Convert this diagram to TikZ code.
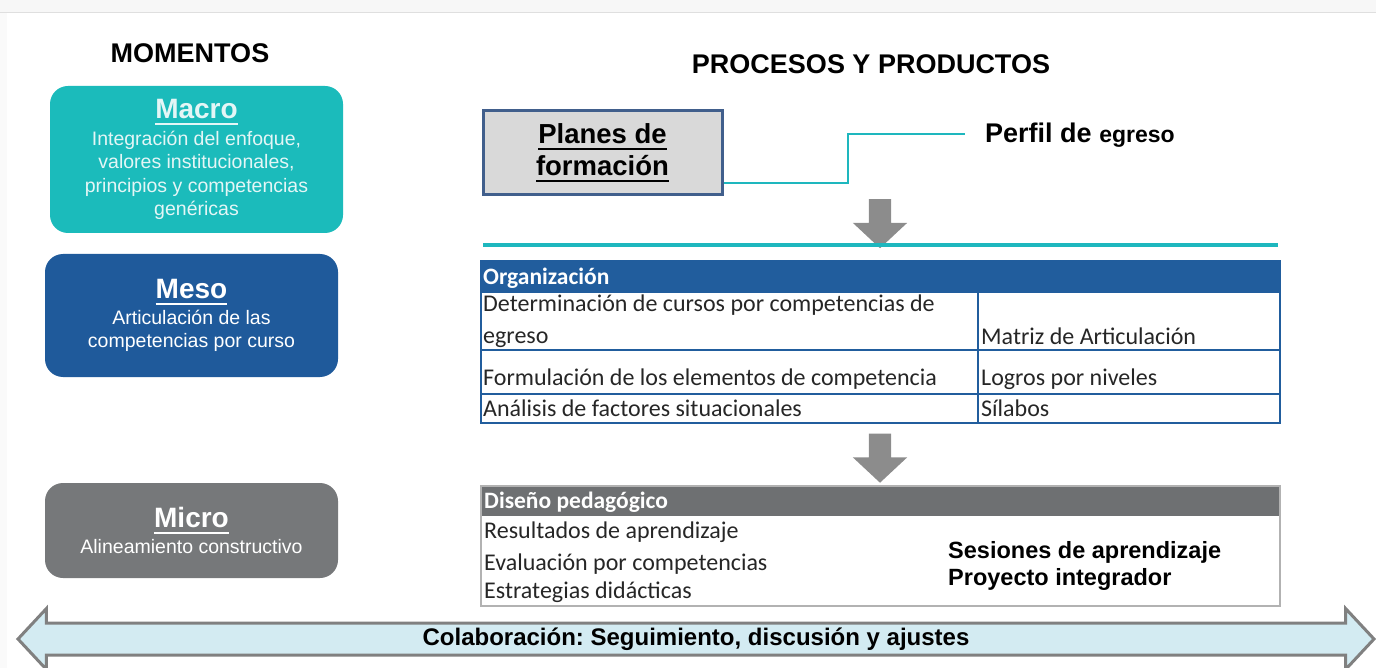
\documentclass[tikz,border=0pt]{standalone}
\usepackage{fontspec}
\setmainfont{Liberation Sans}
\newfontfamily\calibri{Carlito}
\usetikzlibrary{shapes.arrows}
\definecolor{macroteal}{RGB}{27,187,187}
\definecolor{macrotext}{RGB}{228,246,246}
\definecolor{mesoblue}{RGB}{31,90,155}
\definecolor{microgray}{RGB}{118,120,122}
\definecolor{orgblue}{RGB}{33,93,157}
\definecolor{headgray}{RGB}{110,112,114}
\definecolor{linkteal}{RGB}{30,183,190}
\definecolor{arrowgray}{RGB}{140,140,140}
\definecolor{planesgray}{RGB}{217,217,217}
\definecolor{planesedge}{RGB}{65,95,140}
\definecolor{bandblue}{RGB}{211,235,242}
\definecolor{bandedge}{RGB}{128,128,128}
\newcommand{\undertext}[1]{\setbox0=\hbox{#1}\rlap{\vrule width\wd0 height -4pt depth 6.2pt}\box0}
\newcommand{\momtitle}[1]{{\fontsize{28}{30}\selectfont\bfseries\undertext{#1}}}
\frenchspacing

\begin{document}
\begin{tikzpicture}[x=1pt,y=-1pt,
  moment/.style={rounded corners=18pt,minimum width=293pt,inner sep=0pt,align=center,text=white,font=\fontsize{19.5}{23.5}\selectfont},
  heading/.style={font=\fontsize{27}{30}\selectfont\bfseries},
  downarrow/.style={single arrow,fill=arrowgray,rotate=-90,minimum height=49pt,inner sep=11pt,single arrow head extend=16pt,single arrow tip angle=94},
  tabline/.style={draw=orgblue,line width=1.6pt},
  tabtext/.style={anchor=base west,inner sep=0pt,font=\calibri\fontsize{24}{29}\selectfont,text=black!85},
  tabhead/.style={tabtext,font=\calibri\fontsize{23.5}{29}\selectfont\bfseries,text=white},
  product/.style={anchor=base west,inner sep=0pt,font=\fontsize{23.5}{26}\selectfont\bfseries},
  link/.style={draw=linkteal,line width=2.5pt}
]
\useasboundingbox (0,0) rectangle (1376,668);
% background
\fill[gray!6] (0,0) rectangle (1376,12);
\draw[gray!25,line width=1pt] (0,13) -- (1376,13);
\fill[gray!4] (0,13) rectangle (7,668);
% titles
\node[heading] (momentos) at (190,53) {MOMENTOS};
\node[heading] (procesos) at (871,64) {PROCESOS Y PRODUCTOS};
% momentos
\node[moment,fill=macroteal,minimum height=147pt,text=macrotext] (macro) at (196.5,159.5)
  {\momtitle{Macro}\\[3pt]Integración del enfoque,\\valores institucionales,\\principios y competencias\\genéricas};
\node[moment,fill=mesoblue,minimum height=123pt] (meso) at (191.5,315.5)
  {\momtitle{Meso}\\[2pt]Articulación de las\\competencias por curso};
\node[moment,fill=microgray,minimum height=95pt] (micro) at (191.5,530.5)
  {\momtitle{Micro}\\[2pt]Alineamiento constructivo};
% planes de formacion
\node[draw=planesedge,fill=planesgray,line width=3pt,minimum width=239pt,minimum height=84pt,
  align=center,font=\fontsize{27.5}{32}\selectfont\bfseries] (planes) at (602.5,153)
  {\undertext{Planes de}\\\undertext{formación}};
\node[anchor=base west,inner sep=0pt] (perfil) at (985,143)
  {\fontsize{27}{30}\selectfont\bfseries Perfil de \fontsize{23}{26}\selectfont egreso};
\coordinate (bend) at (848,134);
\coordinate (perfilend) at (965,134);
\draw[link] ([yshift=-30pt]planes.east) -| (bend) -- (perfilend);
% flow
\node[downarrow] (arrA) at (880,218.5) {};
\draw[linkteal,line width=4pt] (483,245) -- (1278,245);
\node[downarrow] (arrB) at (880,453) {};
% organizacion
\fill[orgblue] (481,261) rectangle (1280,292);
\draw[tabline] (481,261) rectangle (1280,423);
\draw[tabline] (481,292) -- (1280,292);
\draw[tabline] (481,350) -- (1280,350);
\draw[tabline] (481,394) -- (1280,394);
\draw[tabline] (978,292) -- (978,423);
\node[tabhead] (org) at (483,285) {Organización};
\node[tabtext] (orgA) at (483,312) {Determinación de cursos por competencias de};
\node[tabtext] (orgAb) at (483,343) {egreso};
\node[tabtext] (matriz) at (981,344) {Matriz de Articulación};
\node[tabtext] (orgB) at (483,385) {Formulación de los elementos de competencia};
\node[tabtext] (logros) at (981,385) {Logros por niveles};
\node[tabtext] (orgC) at (483,416) {Análisis de factores situacionales};
\node[tabtext] (silabos) at (981,416) {Sílabos};
% diseno pedagogico
\fill[headgray] (481,486) rectangle (1280,516);
\draw[gray!60,line width=1.2pt] (481,486) rectangle (1280,606);
\node[tabhead] (diseno) at (484,508) {Diseño pedagógico};
\node[tabtext] (disA) at (484,538) {Resultados de aprendizaje};
\node[tabtext] (disB) at (484,570) {Evaluación por competencias};
\node[tabtext] (disC) at (484,598) {Estrategias didácticas};
\node[product] (sesiones) at (948,558) {Sesiones de aprendizaje};
\node[product] (proyecto) at (948,585) {Proyecto integrador};
% colaboracion
\node[double arrow,draw=bandedge,fill=bandblue,line width=3pt,minimum height=1356pt,
  double arrow head extend=14.5pt,double arrow tip angle=94,inner ysep=3pt,
  text height=18pt,text depth=5pt,
  font=\fontsize{24}{26}\selectfont\bfseries] (collab) at (696,639)
  {Colaboración: Seguimiento, discusión y ajustes};
\end{tikzpicture}
\end{document}
